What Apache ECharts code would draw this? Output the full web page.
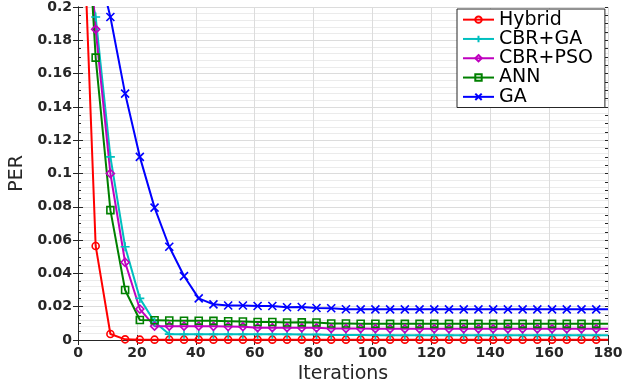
<!DOCTYPE html>
<html>
<head>
<meta charset="utf-8">
<script src="https://cdn.jsdelivr.net/npm/echarts@6/dist/echarts.min.js"></script>
<style>html,body{margin:0;padding:0;background:#fff;}#c{width:637px;height:383px;}</style>
</head>
<body>
<div id="c"></div>
<script>
const iterations = [1,6,11,16,21,26,31,36,41,46,51,56,61,66,71,76,81,86,91,96,101,106,111,116,121,126,131,136,141,146,151,156,161,166,171,176,180];
const hybrid = [0.29,0.0565,0.0036,0.0004,0.0002,0.0002,0.0002,0.0002,0.0002,0.0002,0.0002,0.0002,0.0002,0.0002,0.0002,0.0002,0.0002,0.0002,0.0002,0.0002,0.0002,0.0002,0.0002,0.0002,0.0002,0.0002,0.0002,0.0002,0.0002,0.0002,0.0002,0.0002,0.0002,0.0002,0.0002,0.0002,0.0002];
const cbrGa = [0.2315,0.194,0.110,0.056,0.025,0.0108,0.0035,0.0034,0.0034,0.0034,0.0034,0.0034,0.0034,0.0034,0.0034,0.0033,0.0033,0.0030,0.0030,0.0030,0.0029,0.0028,0.0028,0.0028,0.0028,0.0028,0.0028,0.0028,0.0028,0.0028,0.0028,0.0028,0.0028,0.0028,0.0028,0.0028,0.0028];
const cbrPso = [0.30,0.1866,0.100,0.0467,0.0186,0.0083,0.0083,0.0083,0.0083,0.0082,0.0081,0.0080,0.0074,0.0074,0.0074,0.0073,0.0073,0.0069,0.0069,0.0069,0.0068,0.0067,0.0067,0.0067,0.0067,0.0067,0.0067,0.0067,0.0067,0.0067,0.0067,0.0067,0.0067,0.0067,0.0067,0.0067,0.0067];
const ann = [0.32,0.1696,0.078,0.030,0.012,0.0119,0.0117,0.0116,0.0116,0.0115,0.0113,0.0111,0.0108,0.0108,0.0105,0.0106,0.0105,0.0099,0.0099,0.0098,0.0098,0.0097,0.0097,0.0097,0.0097,0.0097,0.0097,0.0097,0.0097,0.0097,0.0097,0.0097,0.0097,0.0097,0.0097,0.0097,0.0097];
const ga = [0.27,0.23,0.194,0.148,0.110,0.0795,0.056,0.0384,0.025,0.0214,0.0207,0.0207,0.0204,0.0204,0.0197,0.0198,0.0192,0.0191,0.0185,0.0184,0.0184,0.0184,0.0184,0.0184,0.0184,0.0184,0.0184,0.0184,0.0184,0.0184,0.0184,0.0184,0.0184,0.0184,0.0184,0.0184,0.0184];
const seriesNames = ['Hybrid','CBR+GA','CBR+PSO','ANN','GA'];

const PLUS = 'path://M5,0L5,10M0,5L10,5';
const CROSS = 'path://M0,0L10,10M10,0L0,10';
const styles = [
  {color:'#ff0000', symbol:'circle', size:7},
  {color:'#00bfbf', symbol:PLUS, size:9},
  {color:'#bf00bf', symbol:'diamond', size:8},
  {color:'#008000', symbol:'rect', size:7},
  {color:'#0000ff', symbol:CROSS, size:8}
];
const allData = [hybrid, cbrGa, cbrPso, ann, ga];

function mkSeries(i){
  const st = styles[i];
  const data = iterations.map((x,k)=>{
    const it = {value:[x, allData[i][k]]};
    if (x === 180) it.symbol = 'none';
    return it;
  });
  return {
    name: seriesNames[i], type:'line', data: data,
    symbol: st.symbol, symbolSize: st.size, showAllSymbol: true,
    lineStyle:{color:st.color, width:2},
    itemStyle:{color:'transparent', borderColor:st.color, borderWidth:1.6},
    emphasis:{disabled:true}, animation:false, clip:true
  };
}

const chart = echarts.init(document.getElementById('c'), null, {renderer:'canvas'});
const tickFont = {fontFamily:'DejaVu Sans', fontWeight:'bold', fontSize:14, color:'#262626'};
const AX = '#262626';
function tickOnlyY(pos, interval, len){
  return {
    type:'value', min:0, max:0.2, interval:interval, position:pos,
    axisLine:{show:len===5, lineStyle:{color:AX, width:1}},
    axisTick:{show:true, inside:true, length:len, lineStyle:{color:AX}},
    axisLabel:{show:false}, splitLine:{show:false}
  };
}
chart.setOption({
  backgroundColor:'#ffffff',
  animation:false,
  grid:{left:78, right:29, top:7, bottom:43, containLabel:false, outerBoundsMode:'none'},
  legend:{
    data: seriesNames,
    orient:'vertical', left:457, top:9,
    itemWidth:31, itemHeight:8, itemGap:0,
    padding:[1,12,1,5],
    backgroundColor:'#ffffff', borderColor:AX, borderWidth:1, borderRadius:0,
    textStyle:{fontFamily:'DejaVu Sans', fontSize:19, color:'#000', lineHeight:19.3},
    selectedMode:false
  },
  xAxis:[{
    type:'value', min:0, max:180, interval:20, position:'bottom',
    name:'Iterations', nameLocation:'middle', nameGap:20,
    nameTextStyle:{fontFamily:'DejaVu Sans', fontSize:19, color:AX},
    axisLine:{show:true, lineStyle:{color:AX, width:1}},
    axisTick:{show:true, inside:true, length:5, lineStyle:{color:AX}},
    axisLabel:Object.assign({margin:6, formatter:v=>String(v)}, tickFont),
    splitLine:{show:true, lineStyle:{color:'#dcdcdc', width:1}}
  },{
    type:'value', min:0, max:180, interval:20, position:'top',
    axisLine:{show:true, lineStyle:{color:AX, width:1}},
    axisTick:{show:true, inside:true, length:5, lineStyle:{color:AX}},
    axisLabel:{show:false}, splitLine:{show:false}
  }],
  yAxis:[{
    type:'value', min:0, max:0.2, interval:0.02, position:'left',
    name:'PER', nameLocation:'middle', nameGap:41, nameRotate:90,
    nameTextStyle:{fontFamily:'DejaVu Sans', fontSize:19, color:AX},
    axisLine:{show:true, lineStyle:{color:AX, width:1}},
    axisTick:{show:true, inside:true, length:5, lineStyle:{color:AX}},
    axisLabel:Object.assign({margin:6, formatter:v=>String(+v.toFixed(2))}, tickFont),
    splitLine:{show:true, lineStyle:{color:'#dcdcdc', width:1}},
    minorTick:{show:false},
    minorSplitLine:{show:true, lineStyle:{color:'#ebebeb', width:1}}
  },
  tickOnlyY('right', 0.02, 5),
  tickOnlyY('left', 0.005, 3),
  tickOnlyY('right', 0.005, 3)
  ],
  series:[0,1,2,3,4].map(mkSeries)
});
</script>
</body>
</html>
